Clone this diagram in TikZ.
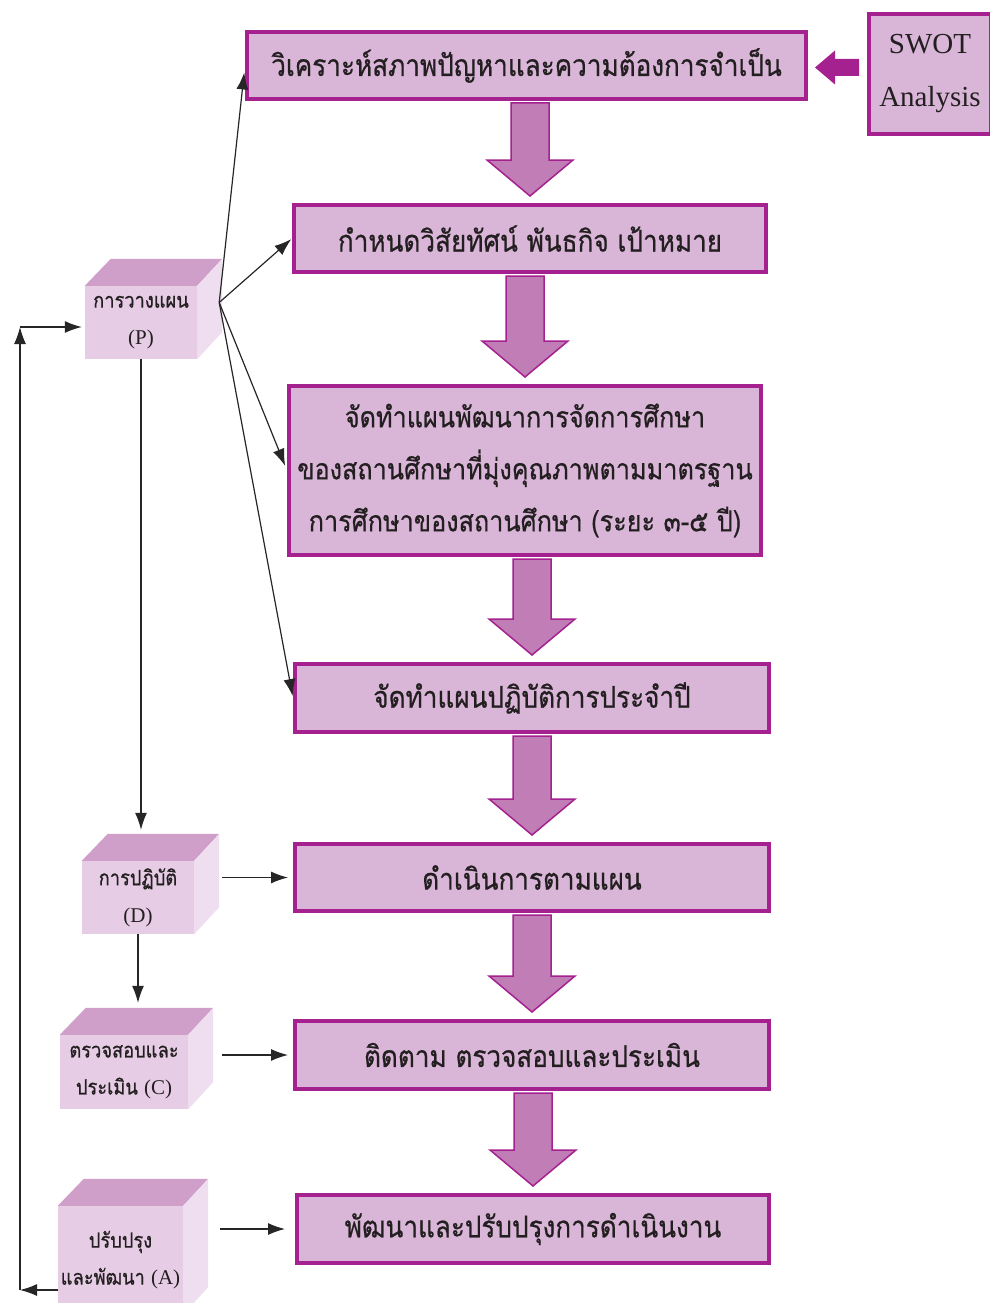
\documentclass[tikz,border=0pt]{standalone}
\usepackage{fontspec}
\setmainfont{Liberation Serif}
\newfontfamily\thaifont[Script=Thai,FakeStretch=0.87,FakeBold=0.6]{Loma}
\usetikzlibrary{
  arrows.meta,
  calc,
}
\definecolor{cBox}{HTML}{D9B5D7}
\definecolor{cEdge}{HTML}{A5218F}
\definecolor{cArr}{HTML}{C07DB6}
\definecolor{cFront}{HTML}{E6CDE5}
\definecolor{cTop}{HTML}{D09FC9}
\definecolor{cSide}{HTML}{EFDEEF}
\definecolor{cText}{HTML}{231F20}

\begin{document}
\begin{tikzpicture}[x=1pt,y=-1pt,
    stepbox/.style={draw=cEdge,fill=cBox,line width=4pt,text=cText,align=center,inner sep=0pt,
        font=\thaifont\fontsize{30}{52}\selectfont},
    cubefront/.style={fill=cFront,text=cText,align=center,inner sep=0pt,
        font=\thaifont\fontsize{21}{37}\selectfont},
    link/.style={-{Latex[length=17pt,width=12pt]},line width=1.2pt,black!85},
    bigarrow/.style={fill=cArr,draw=cEdge,line width=1.5pt}]
  \useasboundingbox (0,0) rectangle (989,1303);

  \node[stepbox,minimum width=559pt,minimum height=67pt] (b1) at (526.5,65.5)
    {วิเคราะห์สภาพปัญหาและความต้องการจำเป็น};
  \node[stepbox,minimum width=472pt,minimum height=67pt] (b2) at (530,238.5)
    {กำหนดวิสัยทัศน์ พันธกิจ เป้าหมาย};
  \node[stepbox,font=\thaifont\fontsize{29}{52}\selectfont,minimum width=472pt,minimum height=169pt] (b3) at (525,470.5)
    {จัดทำแผนพัฒนาการจัดการศึกษา\\ของสถานศึกษาที่มุ่งคุณภาพตามมาตรฐาน\\การศึกษาของสถานศึกษา (ระยะ ๓-๕ ปี)};
  \node[stepbox,minimum width=474pt,minimum height=68pt] (b4) at (532,698)
    {จัดทำแผนปฏิบัติการประจำปี};
  \node[stepbox,minimum width=474pt,minimum height=67pt] (b5) at (532,877.5)
    {ดำเนินการตามแผน};
  \node[stepbox,minimum width=474pt,minimum height=68pt] (b6) at (532,1055)
    {ติดตาม ตรวจสอบและประเมิน};
  \node[stepbox,minimum width=472pt,minimum height=68pt] (b7) at (533,1229)
    {พัฒนาและปรับปรุงการดำเนินงาน};
  \node[stepbox,font=\fontsize{29}{53}\selectfont,minimum width=122pt,minimum height=120pt] (swot) at (930,74)
    {SWOT\\Analysis};

  \foreach \a/\b in {b1/b2,b2/b3,b3/b4,b4/b5,b5/b6,b6/b7}{
      \draw[bigarrow] ($(\a.south -| \b.north)+(-19,2)$) -- ($(\b.north)+(-19,-43)$)
        -- ($(\b.north)+(-43,-43)$) -- ($(\b.north)+(0,-7)$) -- ($(\b.north)+(43,-43)$)
        -- ($(\b.north)+(19,-43)$) -- ($(\a.south -| \b.north)+(19,2)$) -- cycle;
    }
  \fill[cEdge] ($(b1.east)+(7,2)$) -- ++(20,-17) -- ++(0,8.5) -- ++(24,0) -- ++(0,17)
    -- ++(-24,0) -- ++(0,8.5) -- cycle;

  \node[cubefront,minimum width=112pt,minimum height=73pt] (P) at (141,322.5)
    {การวางแผน\\{\rmfamily (P)}};
  \node[cubefront,minimum width=112pt,minimum height=73pt] (D) at (138,897.5)
    {การปฏิบัติ\\{\rmfamily (D)}};
  \node[cubefront,minimum width=128pt,minimum height=74pt] (C) at (124,1072)
    {ตรวจสอบและ\\ประเมิน {\rmfamily (C)}};
  \node[cubefront,minimum width=125pt,minimum height=108pt] (A) at (120.5,1260)
    {ปรับปรุง\\และพัฒนา {\rmfamily (A)}};
  \foreach \c in {P,D,C,A}{
      \fill[cTop] (\c.north west) -- ++(26,-27) -- ($(\c.north east)+(25,-27)$) -- (\c.north east) -- cycle;
      \fill[cSide] (\c.north east) -- ++(25,-27) -- ($(\c.south east)+(25,-27)$) -- (\c.south east) -- cycle;
    }

  \coordinate (fan) at ($(P.east)+(22,-20)$);
  \foreach \b/\s in {b1/7pt,b2/1pt,b3/5pt,b4/2pt}{
      \draw[link,shorten >=\s] (fan) -- (\b.west);
    }
  \draw[link] (P.south) -- ($(P.south |- D.north)+(0,-31)$);
  \draw[link] (D.south) -- ($(D.south |- C.north)+(0,-32)$);
  \draw[link,shorten <=28pt,shorten >=5pt] (D.east |- b5.west) -- (b5.west);
  \draw[link,shorten <=34pt,shorten >=5pt] (C.east |- b6.west) -- (b6.west);
  \draw[link,shorten <=37pt,shorten >=10pt] (A.east |- b7.west) -- (b7.west);

  \coordinate (fb1) at (20,1290);
  \coordinate (fb2) at (20,327);
  \draw[link] (A.west |- fb1) -- (fb1);
  \draw[link] (fb1) -- (fb2);
  \draw[link,shorten >=3pt] (fb2) -- (fb2 -| P.west);
\end{tikzpicture}
\end{document}
